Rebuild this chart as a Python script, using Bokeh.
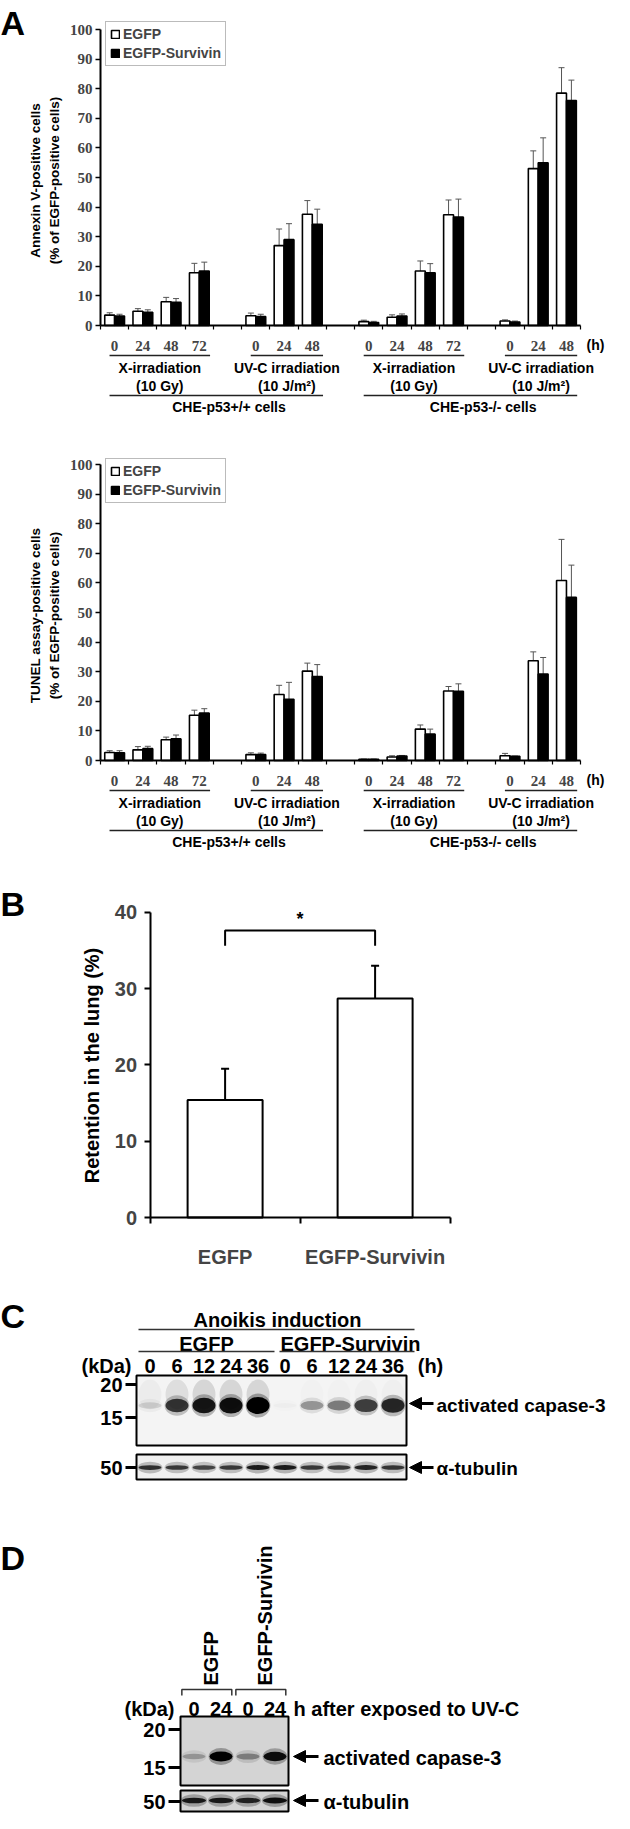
import math
from bokeh.plotting import figure
from bokeh.models import (Range1d, LinearAxis, FixedTicker, Legend, LegendItem, Whisker,
                          TeeHead, ColumnDataSource, Arrow, NormalHead)
from bokeh.layouts import column
from bokeh.core.properties import value
from bokeh.embed import file_html
from bokeh.resources import INLINE

# ---------------- DATA ----------------
cell_lines = ["CHE-p53+/+ cells", "CHE-p53-/- cells"]
treatments = [("X-irradiation", "(10 Gy)"), ("UV-C irradiation", "(10 J/m²)")]
x_hours = ["0", "24", "48", "72"]
uv_hours = ["0", "24", "48"]
series_names = ["EGFP", "EGFP-Survivin"]

# order: p53+/+ X 0,24,48,72 | UV 0,24,48 | p53-/- X 0,24,48,72 | UV 0,24,48
annexin_egfp = [3.5, 4.8, 8.0, 17.8, 3.3, 27.0, 37.6, 1.3, 2.8, 18.4, 37.4, 1.5, 53.0, 78.5]
annexin_egfp_sd = [0.8, 0.9, 1.5, 3.2, 0.9, 5.6, 4.6, 0.5, 0.8, 3.4, 5.0, 0.4, 6.0, 8.6]
annexin_surv = [3.2, 4.5, 7.8, 18.4, 3.0, 29.0, 34.2, 1.0, 3.2, 17.8, 36.6, 1.2, 55.0, 76.0]
annexin_surv_sd = [0.6, 0.8, 1.3, 3.0, 0.8, 5.4, 5.1, 0.4, 0.7, 3.1, 6.1, 0.3, 8.4, 6.9]

tunel_egfp = [2.7, 3.6, 7.0, 15.3, 2.0, 22.3, 30.2, 0.4, 1.2, 10.6, 23.5, 1.6, 33.7, 60.8]
tunel_egfp_sd = [0.6, 1.1, 0.9, 1.7, 0.6, 3.1, 2.7, 0.1, 0.4, 1.4, 1.5, 0.8, 3.0, 13.9]
tunel_surv = [2.6, 4.0, 7.3, 16.0, 2.0, 20.7, 28.4, 0.4, 1.5, 8.9, 23.4, 1.4, 29.2, 55.1]
tunel_surv_sd = [0.7, 0.8, 1.3, 1.5, 0.5, 5.7, 4.0, 0.1, 0.2, 1.7, 2.5, 0.1, 5.6, 10.9]

b_groups = ["EGFP", "EGFP-Survivin"]
b_retention = [15.4, 28.7]
b_retention_sd = [4.1, 4.3]

c_hours = ["0", "6", "12", "24", "36", "0", "6", "12", "24", "36"]
c_casp = [0.12, 0.72, 0.88, 0.92, 1.0, 0.02, 0.32, 0.42, 0.68, 0.8]
c_smear = [0.10, 0.30, 0.40, 0.40, 0.40, 0.0, 0.04, 0.04, 0.06, 0.06]
c_tub = [0.75, 0.7, 0.65, 0.7, 0.85, 0.85, 0.7, 0.7, 0.8, 0.72]

d_groups = ["EGFP", "EGFP-Survivin"]
d_hours = ["0", "24", "0", "24"]
d_casp = [0.25, 1.0, 0.35, 0.92]
d_tub = [0.85, 0.85, 0.8, 0.9]

# ---------------- helpers ----------------
SANS, SERIF = "Liberation Sans", "Liberation Serif"
W = 614


def new_fig(h, xr, yr):
    p = figure(width=W, height=h, x_range=Range1d(*xr), y_range=Range1d(*yr),
               x_axis_type=None, y_axis_type=None, output_backend="svg",
               toolbar_location=None, min_border=0)
    p.outline_line_color = None
    p.background_fill_color = "white"
    p.border_fill_color = "white"
    return p


def txt(p, x, y, s, size, align="center", baseline="middle", font=SANS, angle=0.0, style="bold"):
    p.text(x=[x], y=[y], text=[s], text_font=value(font), text_font_size=f"{size}px",
           text_font_style=style, text_align=align, text_baseline=baseline, angle=angle,
           text_color="black")


# slot layout for panel A
group_hours = [x_hours, uv_hours, x_hours, uv_hours]
slots, slot_labels, group_spans = [], [], []
s = 0
for hrs in group_hours:
    start = s
    for hh in hrs:
        slots.append(s)
        slot_labels.append(hh)
        s += 1
    group_spans.append((start, s - 1))
    s += 1
boundaries = [b - 0.5 for b in range(0, slots[-1] + 2)]


def panel_a(h, zero_py, title_lines, title_cy, egfp, egfp_sd, surv, surv_sd, legend_top, label=None):
    SX, SY, AX = 28.24, 2.96, 100.0

    def X(px):
        return -0.5 + (px - AX) / SX

    def Y(py):
        return (zero_py - py) / SY

    p = new_fig(h, (X(0), X(W)), (Y(h), Y(0)))
    xw = [v - 0.175 for v in slots]
    xb = [v + 0.175 for v in slots]
    rw = p.vbar(x=xw, top=egfp, width=0.35, fill_color="white", line_color="black", line_width=1.6)
    rb = p.vbar(x=xb, top=surv, width=0.35, fill_color="black", line_color="black", line_width=1.6)
    for xs, v, sd in ((xw, egfp, egfp_sd), (xb, surv, surv_sd)):
        src = ColumnDataSource(dict(x=xs, lo=v, hi=[a + b for a, b in zip(v, sd)]))
        p.add_layout(Whisker(source=src, base="x", lower="lo", upper="hi",
                             line_color="#555555", line_width=1,
                             upper_head=TeeHead(size=6, line_color="#555555", line_width=1),
                             lower_head=None))

    yax = LinearAxis(fixed_location=-0.5, bounds=(0, 100),
                     ticker=FixedTicker(ticks=list(range(0, 101, 10))),
                     axis_line_width=2, major_tick_out=5, major_tick_in=0, major_tick_line_width=1.5,
                     minor_tick_out=0, minor_tick_in=0,
                     major_label_text_font=SERIF, major_label_text_font_style="bold",
                     major_label_text_font_size="15px", major_label_standoff=3)
    p.add_layout(yax, "left")
    xax = LinearAxis(fixed_location=0, bounds=(-0.5, slots[-1] + 0.5),
                     ticker=FixedTicker(ticks=slots, minor_ticks=boundaries),
                     major_label_overrides={sl: lab for sl, lab in zip(slots, slot_labels)},
                     axis_line_width=2, major_tick_line_color=None, major_tick_out=0, major_tick_in=0,
                     minor_tick_out=4, minor_tick_in=0, minor_tick_line_width=1.2,
                     major_label_text_font=SERIF, major_label_text_font_style="bold",
                     major_label_text_font_size="15px", major_label_standoff=11)
    p.add_layout(xax, "below")

    txt(p, X(595), Y(zero_py + 19), "(h)", 14)
    for gi, (a, b) in enumerate(group_spans):
        t1, t2 = treatments[gi % 2]
        l, r = a - 0.18, b + 0.38
        p.segment(x0=[l], y0=[Y(zero_py + 30)], x1=[r], y1=[Y(zero_py + 30)],
                  line_color="#222222", line_width=1.5)
        cx = (l + r) / 2
        txt(p, cx, Y(zero_py + 42), t1, 14)
        txt(p, cx, Y(zero_py + 60), t2, 14)
    for ci in range(2):
        a = group_spans[2 * ci][0]
        b = group_spans[2 * ci + 1][1]
        l, r = a - 0.18, b + 0.38
        p.segment(x0=[l], y0=[Y(zero_py + 70)], x1=[r], y1=[Y(zero_py + 70)],
                  line_color="#222222", line_width=1.5)
        txt(p, (l + r) / 2 + 0.45, Y(zero_py + 81), cell_lines[ci], 14)

    txt(p, X(35), Y(title_cy), title_lines[0], 13.5, angle=math.pi / 2)
    txt(p, X(54), Y(title_cy), title_lines[1], 13.5, angle=math.pi / 2)

    leg = Legend(items=[LegendItem(label=series_names[0], renderers=[rw]),
                        LegendItem(label=series_names[1], renderers=[rb])],
                 location=(105, h - (legend_top + 41)),
                 border_line_color="#777777", border_line_width=1, padding=4, spacing=3,
                 margin=0, glyph_width=10, glyph_height=10, label_standoff=3,
                 label_text_font=SANS, label_text_font_style="bold", label_text_font_size="14px",
                 label_height=15, background_fill_alpha=1.0)
    p.add_layout(leg)
    if label:
        txt(p, X(0), Y(22), label, 34, align="left")
    return p


pA1 = panel_a(428, 325, ("Annexin V-positive cells", "(% of EGFP-positive cells)"), 180,
              annexin_egfp, annexin_egfp_sd, annexin_surv, annexin_surv_sd, 25, label="A")
pA2 = panel_a(434, 332, ("TUNEL assay-positive cells", "(% of EGFP-positive cells)"), 187,
              tunel_egfp, tunel_egfp_sd, tunel_surv, tunel_surv_sd, 34)


# ---------------- panel B ----------------
def panel_b():
    h, SX, AX, SY, Z = 410, 150.0, 149.6, 7.63, 355.0

    def X(px):
        return (px - AX) / SX

    def Y(py):
        return (Z - py) / SY

    p = new_fig(h, (X(0), X(W)), (Y(h), Y(0)))
    xs = [i + 0.5 for i in range(len(b_groups))]
    p.vbar(x=xs, top=b_retention, width=0.5, fill_color="white", line_color="black", line_width=2)
    src = ColumnDataSource(dict(x=xs, lo=[v - e for v, e in zip(b_retention, b_retention_sd)],
                                hi=[v + e for v, e in zip(b_retention, b_retention_sd)]))
    p.add_layout(Whisker(source=src, base="x", lower="lo", upper="hi", line_color="black", line_width=2,
                         upper_head=TeeHead(size=8, line_color="black", line_width=2),
                         lower_head=TeeHead(size=8, line_color="black", line_width=2)))
    yax = LinearAxis(fixed_location=0, bounds=(0, 40), ticker=FixedTicker(ticks=[0, 10, 20, 30, 40]),
                     axis_line_width=2, major_tick_out=6, major_tick_in=0, major_tick_line_width=2,
                     minor_tick_out=0,
                     major_label_text_font=SANS, major_label_text_font_style="bold",
                     major_label_text_font_size="20px", major_label_standoff=7)
    p.add_layout(yax, "left")
    xax = LinearAxis(fixed_location=0, bounds=(0, len(b_groups)),
                     ticker=FixedTicker(ticks=xs, minor_ticks=list(range(len(b_groups) + 1))),
                     major_label_overrides={x: g for x, g in zip(xs, b_groups)},
                     axis_line_width=2, major_tick_line_color=None, major_tick_out=0, major_tick_in=0,
                     minor_tick_out=6, minor_tick_in=0, minor_tick_line_width=2,
                     major_label_text_font=SANS, major_label_text_font_style="bold",
                     major_label_text_font_size="20px", major_label_standoff=22)
    p.add_layout(xax, "below")
    top = max(v + e for v, e in zip(b_retention, b_retention_sd))
    p.line(x=[xs[0], xs[0], xs[1], xs[1]], y=[top + 2.6, top + 4.6, top + 4.6, top + 2.6],
           line_color="black", line_width=2)
    txt(p, (xs[0] + xs[1]) / 2, top + 6.1, "*", 18)
    txt(p, X(91), Y(203), "Retention in the lung (%)", 20, angle=math.pi / 2)
    txt(p, X(0), Y(41), "B", 34, align="left")
    return p


pB = panel_b()


def arrow(p, x0, x1, y):
    p.add_layout(Arrow(x_start=x0, y_start=y, x_end=x1, y_end=y, line_width=3, line_color="black",
                       end=NormalHead(size=12, fill_color="black", line_color="black", line_width=1)))


def bands(p, lanes, yc, inten, w, h0, hk):
    src = ColumnDataSource(dict(x=lanes, y=[yc] * len(lanes),
                                h=[h0 + hk * v for v in inten], a=[min(1.0, v) for v in inten],
                                h2=[h0 + hk * v + 7 for v in inten], a2=[0.3 * v for v in inten]))
    p.ellipse(x="x", y="y", width=w * 1.08, height="h2", fill_color="black", fill_alpha="a2",
              line_color=None, source=src)
    p.ellipse(x="x", y="y", width=w, height="h", fill_color="black", fill_alpha="a",
              line_color=None, source=src)


# ---------------- panel C ----------------
def panel_c():
    h, LW, L0 = 220, 27.0, 149.5

    def X(px):
        return (px - L0) / LW

    def Y(py):
        return h - py

    p = new_fig(h, (X(0), X(W)), (0, h))
    lanes = list(range(len(c_hours)))
    p.quad(left=[lanes[0] - 0.5], right=[lanes[-1] + 0.5], top=[Y(103)], bottom=[Y(173)],
           fill_color="#f4f4f4", line_color="black", line_width=2)
    p.quad(left=[lanes[0] - 0.5], right=[lanes[-1] + 0.5], top=[Y(182)], bottom=[Y(207)],
           fill_color="#f0f0f0", line_color="black", line_width=2)
    src = ColumnDataSource(dict(x=lanes, y=[Y(122)] * len(lanes), a=[0.3 * v for v in c_smear]))
    p.ellipse(x="x", y="y", width=0.85, height=30, fill_color="black", fill_alpha="a",
              line_color=None, source=src)
    bands(p, lanes, Y(133), c_casp, 0.85, 5, 12)
    bands(p, lanes, Y(195), c_tub, 0.85, 4, 1)

    txt(p, X(0), Y(43), "C", 34, align="left")
    txt(p, X(277), Y(47), "Anoikis induction", 20)
    p.segment(x0=[X(138)], y0=[Y(57)], x1=[X(414)], y1=[Y(57)], line_color="#333333", line_width=1.5)
    txt(p, X(206), Y(71), "EGFP", 20)
    txt(p, X(350), Y(71), "EGFP-Survivin", 20)
    p.segment(x0=[X(138), X(279)], y0=[Y(79), Y(79)], x1=[X(274), X(414)], y1=[Y(79), Y(79)],
              line_color="#333333", line_width=1.5)
    txt(p, X(106), Y(93), "(kDa)", 20)
    p.text(x=lanes, y=[Y(93)] * len(lanes), text=c_hours, text_font=value(SANS), text_font_size="20px",
           text_font_style="bold", text_align="center", text_baseline="middle")
    txt(p, X(430), Y(93), "(h)", 20)
    for lab, py in (("20", 112), ("15", 145), ("50", 195)):
        txt(p, X(122), Y(py), lab, 20, align="right")
        p.segment(x0=[X(125)], y0=[Y(py)], x1=[X(136)], y1=[Y(py)], line_color="black", line_width=3)
    arrow(p, X(433), X(409), Y(131))
    txt(p, X(436), Y(133), "activated capase-3", 19, align="left")
    arrow(p, X(433), X(409), Y(195))
    txt(p, X(436), Y(196), "α-tubulin", 19, align="left")
    return p


pC = panel_c()


# ---------------- panel D ----------------
def panel_d():
    h, LW, L0 = 321, 27.0, 193.5

    def X(px):
        return (px - L0) / LW

    def Y(py):
        return h - py

    p = new_fig(h, (X(0), X(W)), (0, h))
    lanes = list(range(len(d_hours)))
    p.quad(left=[lanes[0] - 0.5], right=[lanes[-1] + 0.5], top=[Y(224)], bottom=[Y(293)],
           fill_color="#d4d4d4", line_color="black", line_width=2)
    p.quad(left=[lanes[0] - 0.5], right=[lanes[-1] + 0.5], top=[Y(298)], bottom=[Y(319)],
           fill_color="#d4d4d4", line_color="black", line_width=2)
    bands(p, lanes, Y(264), d_casp, 0.85, 4, 6)
    bands(p, lanes, Y(308), d_tub, 0.9, 4, 2)

    txt(p, X(0), Y(65), "D", 34, align="left")
    for gi, g in enumerate(d_groups):
        a, b = lanes[2 * gi] - 0.45, lanes[2 * gi + 1] + 0.4
        p.line(x=[a, a, b, b], y=[Y(203), Y(197), Y(197), Y(203)], line_color="#333333", line_width=1.5)
        txt(p, (lanes[2 * gi] + lanes[2 * gi + 1]) / 2 + 0.12, Y(193), g, 20, align="left",
            angle=math.pi / 2)
    txt(p, X(149), Y(216), "(kDa)", 20)
    p.text(x=lanes, y=[Y(216)] * len(lanes), text=d_hours, text_font=value(SANS), text_font_size="20px",
           text_font_style="bold", text_align="center", text_baseline="middle")
    txt(p, X(293), Y(216), "h after exposed to UV-C", 20, align="left")
    for lab, py in (("20", 237), ("15", 275), ("50", 309)):
        txt(p, X(165), Y(py), lab, 20, align="right")
        p.segment(x0=[X(168)], y0=[Y(py)], x1=[X(180)], y1=[Y(py)], line_color="black", line_width=3)
    arrow(p, X(318), X(293), Y(264))
    txt(p, X(323), Y(265), "activated capase-3", 20, align="left")
    arrow(p, X(318), X(293), Y(308))
    txt(p, X(323), Y(309), "α-tubulin", 20, align="left")
    return p


pD = panel_d()

layout = column(pA1, pA2, pB, pC, pD, spacing=0)
open("out.html", "w").write(file_html(layout, INLINE))
